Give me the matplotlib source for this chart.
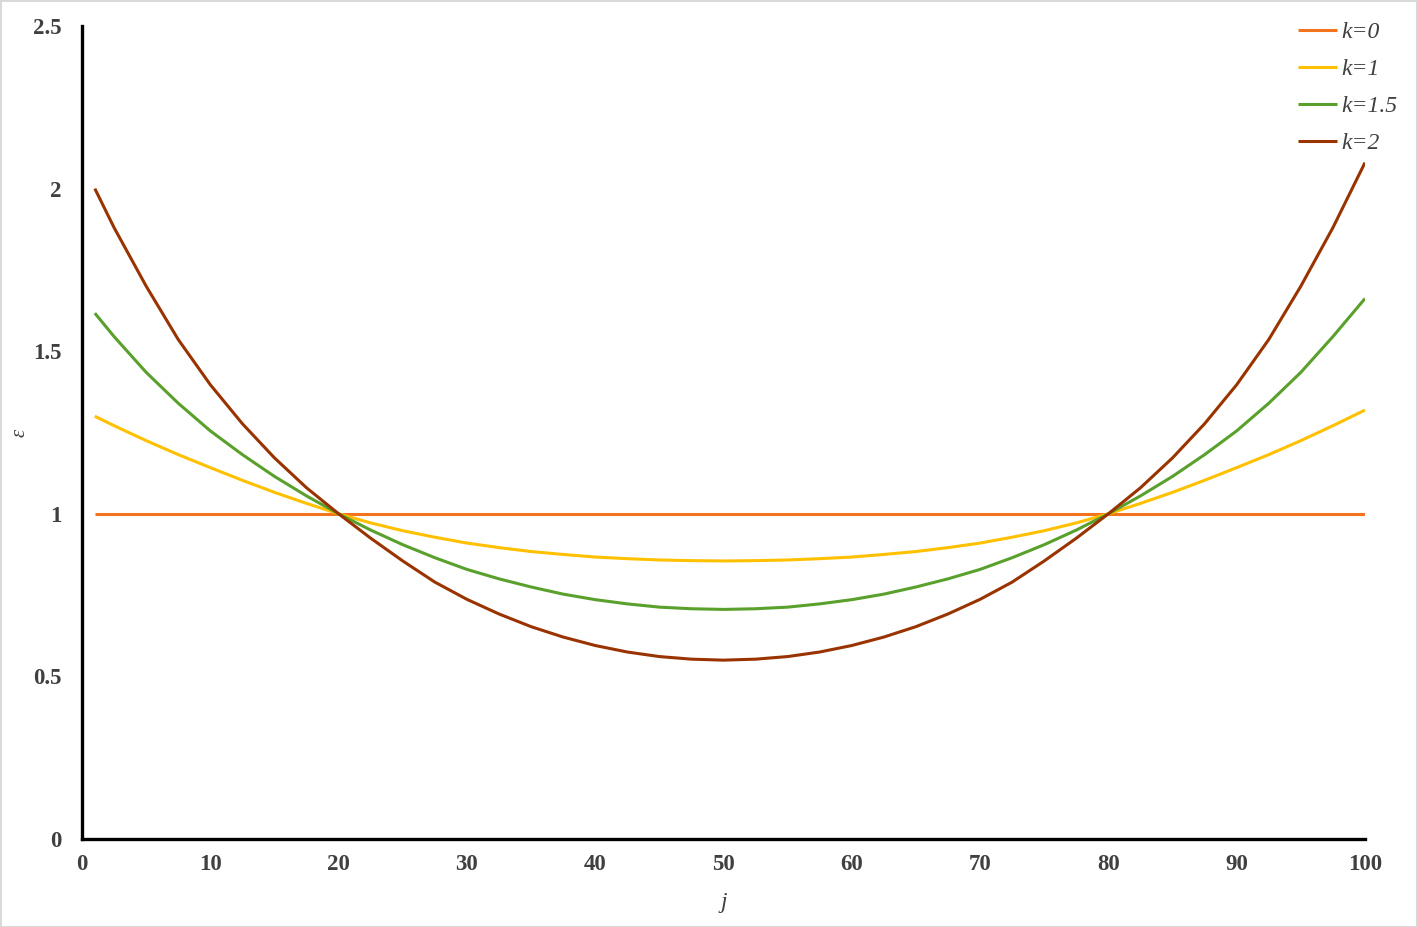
import matplotlib.pyplot as plt

# Datos (j, epsilon para cada k)
j = [1, 2.5, 5, 7.5, 10, 12.5, 15, 17.5, 20, 22.5, 25, 27.5, 30, 32.5, 35, 37.5, 40,
     42.5, 45, 47.5, 50, 52.5, 55, 57.5, 60, 62.5, 65, 67.5, 70, 72.5, 75, 77.5, 80,
     82.5, 85, 87.5, 90, 92.5, 95, 97.5, 100]
eps_k0 = [1.0] * len(j)
eps_k1 = [1.300, 1.271, 1.225, 1.182, 1.142, 1.103, 1.066, 1.032, 1.000, 0.972, 0.948,
          0.928, 0.910, 0.896, 0.884, 0.875, 0.867, 0.862, 0.858, 0.856, 0.855,
          0.856, 0.858, 0.862, 0.867, 0.875, 0.884, 0.896, 0.910, 0.928, 0.948,
          0.972, 1.000, 1.032, 1.066, 1.103, 1.142, 1.182, 1.225, 1.271, 1.319]
eps_k15 = [1.617, 1.545, 1.435, 1.340, 1.255, 1.182, 1.115, 1.055, 1.000, 0.950, 0.905,
           0.865, 0.829, 0.800, 0.775, 0.753, 0.736, 0.723, 0.713, 0.708, 0.706,
           0.708, 0.713, 0.723, 0.736, 0.753, 0.775, 0.800, 0.829, 0.865, 0.905,
           0.950, 1.000, 1.055, 1.115, 1.182, 1.255, 1.340, 1.435, 1.545, 1.662]
eps_k2 = [2.000, 1.880, 1.700, 1.536, 1.397, 1.277, 1.172, 1.080, 1.000, 0.925, 0.855,
          0.790, 0.737, 0.692, 0.653, 0.621, 0.595, 0.575, 0.561, 0.553, 0.550,
          0.553, 0.561, 0.575, 0.595, 0.621, 0.653, 0.692, 0.737, 0.790, 0.855,
          0.925, 1.000, 1.080, 1.172, 1.277, 1.397, 1.536, 1.700, 1.880, 2.080]

etiquetas = ['k=0', 'k=1', 'k=1.5', 'k=2']
colores = ['#F4731F', '#FFC000', '#5AA02C', '#993300']
x_ticks = [0, 10, 20, 30, 40, 50, 60, 70, 80, 90, 100]
y_ticks = [0, 0.5, 1, 1.5, 2, 2.5]
y_tick_labels = ['0', '0.5', '1', '1.5', '2', '2.5']

plt.rcParams['font.family'] = ['Liberation Serif', 'DejaVu Serif']

fig = plt.figure(figsize=(14.17, 9.27), dpi=100)
fig.patch.set_edgecolor('#D9D9D9')
fig.patch.set_linewidth(2)
ax = fig.add_axes([82 / 1417, 88 / 927, 1283 / 1417, 813 / 927])

series = [eps_k0, eps_k1, eps_k15, eps_k2]
for datos, etiqueta, color in zip(series, etiquetas, colores):
    ax.plot(j, datos, color=color, lw=2.2, label=etiqueta,
            solid_capstyle='butt', solid_joinstyle='round')

ax.set_xlim(0, 100)
ax.set_ylim(0, 2.5)
ax.set_xticks(x_ticks)
ax.set_yticks(y_ticks)
ax.set_yticklabels(y_tick_labels)
ax.tick_params(length=0, labelsize=16.5, colors='#404040')
ax.tick_params(axis='x', pad=11)
ax.tick_params(axis='y', pad=15)
for lbl in ax.get_xticklabels() + ax.get_yticklabels():
    lbl.set_fontweight('bold')

for s in ['top', 'right']:
    ax.spines[s].set_visible(False)
for s in ['left', 'bottom']:
    ax.spines[s].set_linewidth(2.4)
    ax.spines[s].set_color('black')

ax.set_xlabel('j', fontsize=17, fontstyle='italic', color='#404040', labelpad=12)
ax.set_ylabel('ε', fontsize=15, fontstyle='italic', color='#404040')
ax.yaxis.set_label_coords(-0.041, 0.5)

leg = ax.legend(loc='upper right', bbox_to_anchor=(1407 / 1417, 1 - 12 / 927),
                bbox_transform=fig.transFigure, frameon=False, borderaxespad=0,
                prop={'family': 'Liberation Serif', 'style': 'italic', 'size': 17},
                handlelength=1.65, handletextpad=0.17, labelspacing=0.66)
for t in leg.get_texts():
    t.set_color('#404040')

plt.savefig('out.png', dpi=100)
